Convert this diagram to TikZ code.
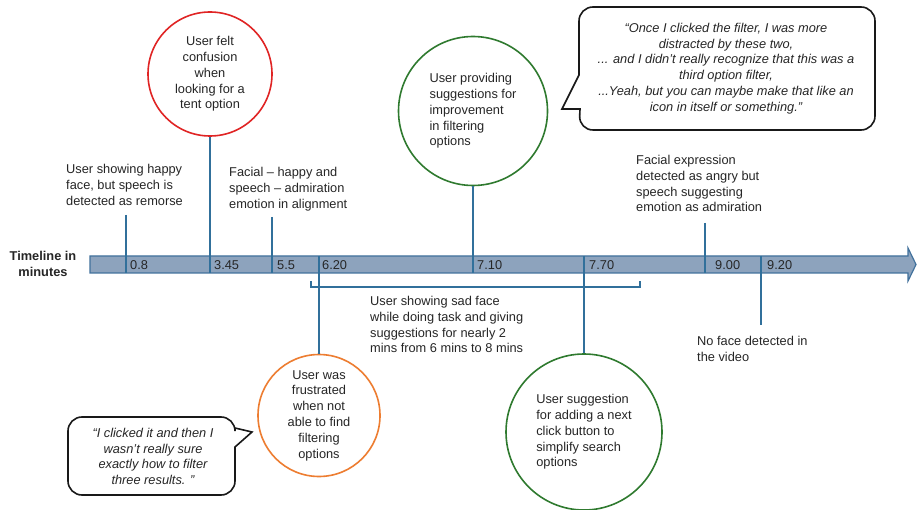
\documentclass[tikz,border=0pt]{standalone}
\usepackage{fontspec}
\setmainfont{Liberation Sans}
\definecolor{barfill}{HTML}{8DA3BD}
\definecolor{barline}{HTML}{41719C}
\definecolor{tickc}{HTML}{31709B}
\definecolor{txt}{HTML}{262626}
\definecolor{cred}{HTML}{E02424}
\definecolor{cgreen}{HTML}{2F7A2F}
\definecolor{corange}{HTML}{ED7D31}
\begin{document}
\begin{tikzpicture}[x=1pt,y=-1pt,
  font=\fontsize{12.8}{15.8}\selectfont, text=txt,
  lbl/.style={anchor=north west, inner sep=0pt, align=left},
  tick/.style={draw=tickc, line width=1.4pt},
  circ/.style={circle, draw, line width=1.6pt, inner sep=0pt, text=txt},
  bubble/.style={draw=black!90, line width=1.6pt},
  quote/.style={inner sep=0pt, align=center, font=\fontsize{12.8}{15.8}\selectfont\itshape},
  num/.style={anchor=west, inner sep=0pt}]
\useasboundingbox (0,0) rectangle (917,510);
\fill[white] (0,0) rectangle (917,510);

% timeline bar
\draw[draw=barline, fill=barfill, line width=1.2pt]
  (90,256) -- (908,256) -- (908,248) -- (916,264.5) -- (908,281) -- (908,273) -- (90,273) -- cycle;
\node[align=center, inner sep=0pt, font=\fontsize{12.8}{15.8}\selectfont\bfseries] (tl) at (43,264) {Timeline in\\minutes};

% tick coordinates on the bar
\coordinate (b1) at (126,273);
\coordinate (b2) at (210,273);
\coordinate (b3) at (272,273);
\coordinate (b4) at (319,256);
\coordinate (b5) at (473,273);
\coordinate (b6) at (584,256);
\coordinate (b7) at (705,273);
\coordinate (b8) at (761,256);

% tick numbers
\node[num] (n1) at (130,265.5) {0.8};
\node[num] (n2) at (214,265.5) {3.45};
\node[num] (n3) at (277,265.5) {5.5};
\node[num] (n4) at (322,265.5) {6.20};
\node[num] (n5) at (477,265.5) {7.10};
\node[num] (n6) at (589,265.5) {7.70};
\node[num] (n7) at (715,265.5) {9.00};
\node[num] (n8) at (767,265.5) {9.20};

% text labels
\node[lbl] (happy) at (66,164) {User showing happy\\face, but speech is\\detected as remorse};
\node[lbl] (align) at (229,167) {Facial -- happy and\\speech -- admiration\\emotion in alignment};
\node[lbl] (angry) at (636,155) {Facial expression\\detected as angry but\\speech suggesting\\emotion as admiration};
\node[lbl] (noface) at (697,336) {No face detected in\\the video};
\node[lbl] (sad) at (370,296) {User showing sad face\\while doing task and giving\\suggestions for nearly 2\\mins from 6 mins to 8 mins};

% circles
\node[circ, draw=cred, minimum size=124pt, align=center] (red) at (210,74)
  {User felt\\confusion\\when\\looking for a\\tent option};
\node[circ, draw=cgreen, minimum size=149pt, align=left] (gtop) at (473,111)
  {User providing\\suggestions for\\improvement\\in filtering\\options};
\node[circ, draw=corange, minimum size=122pt, align=center] (orange) at (319,415.5)
  {User was\\frustrated\\when not\\able to find\\filtering\\options};
\node[circ, draw=cgreen, minimum size=156pt, align=left] (gbot) at (584,432)
  {User suggestion\\for adding a next\\click button to\\simplify search\\options};

% tick top coordinates
\coordinate (a1) at (126,215);
\coordinate (a3) at (272,217);
\coordinate (a7) at (705,223);
\coordinate (a8) at (761,325);

% ticks
\draw[tick] (a1) -- (b1);
\draw[tick] (red.south) -- (b2);
\draw[tick] (a3) -- (b3);
\draw[tick] (b4) -- (orange.north);
\draw[tick] (gtop.south) -- (b5);
\draw[tick] (b6) -- (gbot.north);
\draw[tick] (a7) -- (b7);
\draw[tick] (b8) -- (a8);

% bracket
\coordinate (br1) at (311,281);
\coordinate (br2) at (640,281);
\draw[tick] (br1) -- (br1 |- 0,287) -- (br2 |- 0,287) -- (br2);

% top speech bubble
\draw[bubble] (562,109) -- (579,75) [rounded corners=14pt] -- (579,7) -- (875,7) -- (875,130) -- (579,130) [sharp corners] -- (580,109) -- cycle;
\node[quote] (q1) at (726,68.5)
  {“Once I clicked the filter, I was more\\distracted by these two,\\... and I didn't really recognize that this was a\\third option filter,\\...Yeah, but you can maybe make that like an\\icon in itself or something.”};

% bottom speech bubble
\draw[bubble] (252,432) -- (235,447) [rounded corners=14pt] -- (235,495) -- (68,495) -- (68,417) -- (235,417) [sharp corners] -- (235,428) -- cycle;
\node[quote] (q2) at (153,456.5)
  {“I clicked it and then I\\wasn't really sure\\exactly how to filter\\three results. ”};
\end{tikzpicture}
\end{document}
